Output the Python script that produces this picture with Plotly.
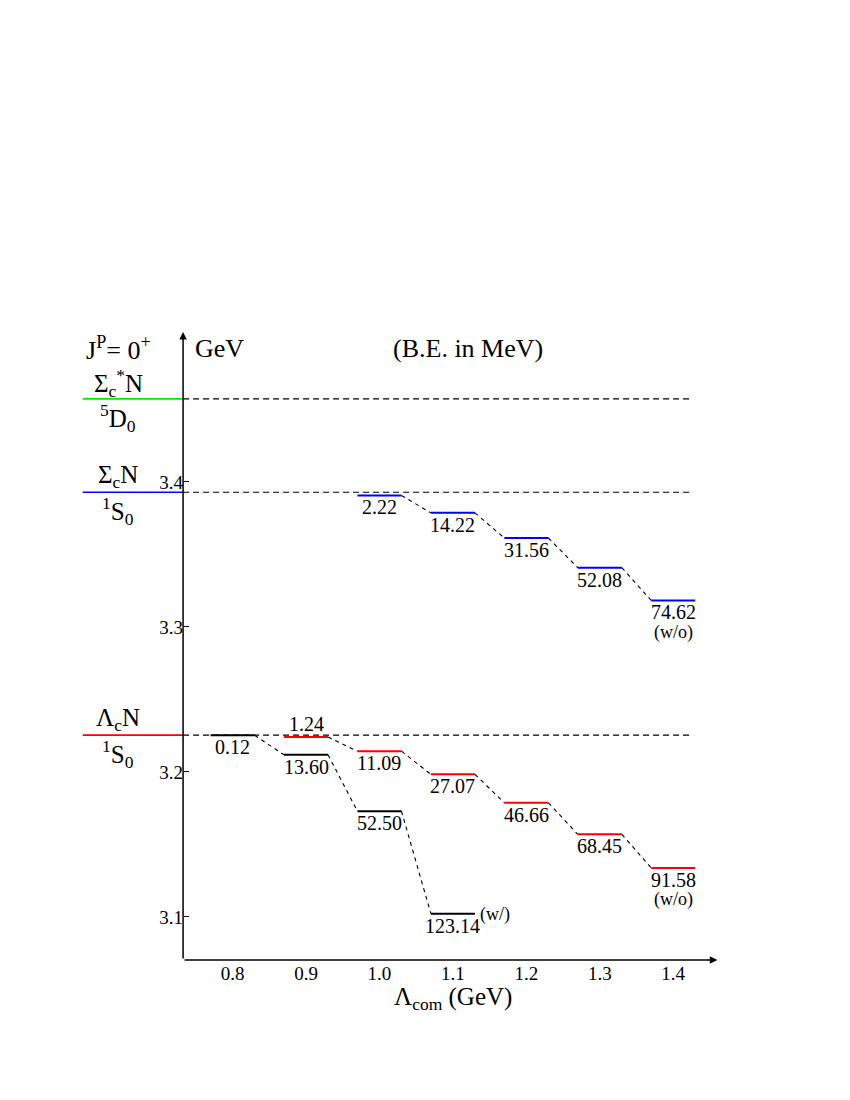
import plotly.graph_objects as go

# thresholds (GeV)
threshold_names = ["Λ<sub>c</sub>N", "Σ<sub>c</sub>N", "Σ<sub>c</sub><sup>*</sup>N"]
threshold_waves = ["<sup>1</sup>S<sub>0</sub>", "<sup>1</sup>S<sub>0</sub>", "<sup>5</sup>D<sub>0</sub>"]
threshold_mass = [3.2254, 3.3929, 3.4573]
threshold_colors = ["#ff0000", "#0000ff", "#00ee00"]

# Lambda_c N bound states, with coupling (w/)
lam_w = [0.8, 0.9, 1.0, 1.1]
be_w = [0.12, 13.60, 52.50, 123.14]

# Lambda_c N bound states, without coupling (w/o)
lam_wo = [0.9, 1.0, 1.1, 1.2, 1.3, 1.4]
be_wo = [1.24, 11.09, 27.07, 46.66, 68.45, 91.58]

# Sigma_c N bound states (w/o)
lam_sig = [1.0, 1.1, 1.2, 1.3, 1.4]
be_sig = [2.22, 14.22, 31.56, 52.08, 74.62]

x_ticks = [0.8, 0.9, 1.0, 1.1, 1.2, 1.3, 1.4]
y_ticks = [3.1, 3.2, 3.3, 3.4]

FONT = "Liberation Serif"
X_RANGE = [0.58, 1.48]
Y_RANGE = [3.0703, 3.5034]
AXIS_X = 0.7326      # where the energy axis stands
HALF = 0.03          # half width of a level bar
LEFT_X = 0.596       # start of coloured threshold marks
DASH_END = 1.4256

series = [
    dict(lam=lam_w, be=be_w, thr=0, color="black", tag="(w/)"),
    dict(lam=lam_wo, be=be_wo, thr=0, color="#ff0000", tag="(w/o)"),
    dict(lam=lam_sig, be=be_sig, thr=1, color="#0000ff", tag="(w/o)"),
]
for s in series:
    s["mass"] = [threshold_mass[s["thr"]] - b / 1000 for b in s["be"]]

fig = go.Figure()
annotations = []

# thresholds: coloured mark left of axis + dashed line across
for name, wave, m, col in zip(threshold_names, threshold_waves, threshold_mass, threshold_colors):
    fig.add_trace(go.Scatter(x=[LEFT_X, AXIS_X], y=[m, m], mode="lines",
                             line=dict(color=col, width=1.6), showlegend=False, hoverinfo="skip"))
    fig.add_trace(go.Scatter(x=[AXIS_X, DASH_END], y=[m, m], mode="lines",
                             line=dict(color="black", width=1.1, dash="6px,4px"),
                             showlegend=False, hoverinfo="skip"))
    annotations.append(dict(x=(LEFT_X + AXIS_X) / 2 - 0.02, y=m, text=name, yshift=16,
                            showarrow=False, font=dict(size=25)))
    annotations.append(dict(x=(LEFT_X + AXIS_X) / 2 - 0.02, y=m, text=wave, yshift=-19,
                            showarrow=False, font=dict(size=25)))

# bound state levels
for i, s in enumerate(series):
    mass = s["mass"]
    xs, ys = [], []
    for c, m in zip(s["lam"], mass):
        xs += [c - HALF, c + HALF, None]
        ys += [m, m, None]
    fig.add_trace(go.Scatter(x=xs, y=ys, mode="lines", line=dict(color=s["color"], width=2),
                             showlegend=False, hoverinfo="skip"))
    cx, cy = [], []
    for k in range(len(mass) - 1):
        cx += [s["lam"][k] + HALF, s["lam"][k + 1] - HALF, None]
        cy += [mass[k], mass[k + 1], None]
    fig.add_trace(go.Scatter(x=cx, y=cy, mode="lines",
                             line=dict(color="black", width=1.1, dash="4px,4px"),
                             showlegend=False, hoverinfo="skip"))
    for c, m, b in zip(s["lam"], mass, s["be"]):
        # label goes above when another level sits just below in the same column
        above = any(o is not s and c in o["lam"] and 0 < m - o["mass"][o["lam"].index(c)] < 0.02
                    for o in series)
        annotations.append(dict(x=c, y=m, text=f"{b:.2f}", yshift=13 if above else -12,
                                showarrow=False, font=dict(size=20)))
    if s["tag"] == "(w/)":
        annotations.append(dict(x=s["lam"][-1] + HALF, y=mass[-1], text=s["tag"], xanchor="left",
                                xshift=3, yshift=-1, showarrow=False, font=dict(size=18)))
    else:
        annotations.append(dict(x=s["lam"][-1], y=mass[-1], text=s["tag"], yshift=-32,
                                showarrow=False, font=dict(size=18)))

# axes drawn as arrows
annotations.append(dict(x=AXIS_X, y=Y_RANGE[1], ax=AXIS_X, ay=Y_RANGE[0], axref="x", ayref="y",
                        showarrow=True, arrowhead=2, arrowsize=1, arrowwidth=1.5, arrowcolor="black",
                        text=""))
annotations.append(dict(x=1.46, y=Y_RANGE[0], ax=AXIS_X, ay=Y_RANGE[0], axref="x", ayref="y",
                        showarrow=True, arrowhead=2, arrowsize=1, arrowwidth=1.5, arrowcolor="black",
                        text=""))

# titles and labels
annotations += [
    dict(x=0.644, y=3.492, text="J<sup>P</sup>= 0<sup>+</sup>", showarrow=False, font=dict(size=26)),
    dict(x=0.746, y=3.492, text="GeV", xanchor="left", showarrow=False, font=dict(size=26)),
    dict(x=1.121, y=3.492, text="(B.E. in MeV)", showarrow=False, font=dict(size=26)),
    dict(x=1.1, y=-0.062, yref="paper", yanchor="middle", text="Λ<sub>com</sub> (GeV)",
         showarrow=False, font=dict(size=25)),
]

axis_pos = (AXIS_X - X_RANGE[0]) / (X_RANGE[1] - X_RANGE[0])

# page body adds an 8px offset, so the figure is drawn 16px smaller
fig.update_layout(
    width=834, height=1084,
    margin=dict(l=63, r=110, t=324, b=132),
    plot_bgcolor="white", paper_bgcolor="white",
    font=dict(family=FONT, color="black"),
    showlegend=False,
    annotations=annotations,
    xaxis=dict(range=X_RANGE, showgrid=False, zeroline=False, showline=False,
               tickvals=x_ticks, ticktext=[f"{v:.1f}" for v in x_ticks], ticks="",
               tickfont=dict(size=19)),
    yaxis=dict(range=Y_RANGE, showgrid=False, zeroline=False, showline=False,
               anchor="free", position=axis_pos,
               tickvals=y_ticks, ticktext=[f"{v:.1f}" for v in y_ticks],
               ticks="inside", ticklen=5, tickwidth=1.3, tickcolor="black",
               tickfont=dict(size=19)),
)

fig.write_html("out.html")
